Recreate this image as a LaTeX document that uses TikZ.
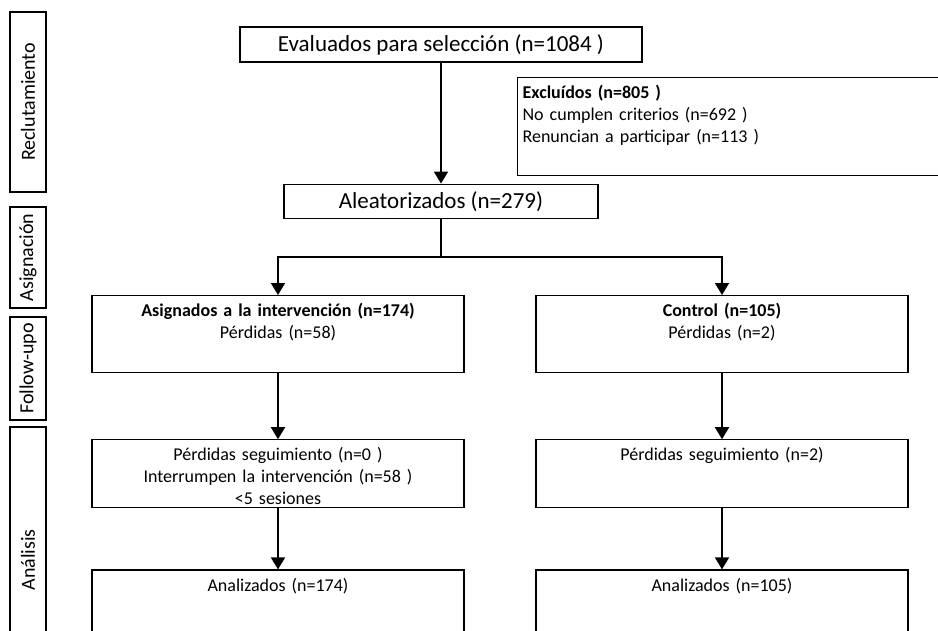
\documentclass[tikz,border=0pt]{standalone}
\usepackage{fontspec}
\setmainfont{Carlito}
\usetikzlibrary{arrows.meta,positioning}
\tikzset{
  phasebox/.style={draw, line width=1.2pt, rotate=90,
    minimum height=36pt, inner sep=0pt,
    font=\fontsize{20}{24}\selectfont},
  mainbox/.style={draw, line width=1.2pt, inner sep=0pt,
    minimum height=35pt, font=\fontsize{23}{28}\selectfont},
  armbox/.style={draw, line width=1.2pt, inner sep=0pt,
    text width=372pt, align=center, text height=21pt,
    font=\fontsize{18}{22}\selectfont},
  exclbox/.style={draw, line width=1.2pt, inner xsep=5pt, inner ysep=0pt,
    text width=440pt, align=left, text height=20.5pt,
    font=\fontsize{18}{22}\selectfont},
  arr/.style={-{Triangle[length=12pt, width=14pt]}, line width=1.8pt},
}
\begin{document}
\begin{tikzpicture}[x=1pt, y=1pt, node distance=60pt]
  \useasboundingbox (0,0) rectangle (938,-630);
  \clip (0,0) rectangle (938,-630);

  % phases on the left
  \node[phasebox, minimum width=180pt] (reclut) at (28,-102) {Reclutamiento};
  \node[phasebox, minimum width=101pt] (asig) at (28,-257.5) {Asignación};
  \node[phasebox, minimum width=103pt] (follow) at (28,-368.5) {Follow-upo};
  \node[phasebox, minimum width=266pt] (anal) at (28,-560) {Análisis};

  % recruitment
  \node[mainbox, minimum width=402pt] (eval) at (441,-44.5) {Evaluados para selección (n=1084 )};
  \node[mainbox, minimum width=314pt, minimum height=34pt, below=121pt of eval] (rand) {Aleatorizados (n=279)};
  \node[exclbox, text depth=77.5pt, anchor=north west] (excl) at (517,-77)
    {\textbf{Excluídos (n=805 )}\\No cumplen criterios (n=692 )\\Renuncian a participar (n=113 )};

  % arms
  \node[armbox, text depth=56pt, anchor=north] (intv) at (278,-295)
    {\textbf{Asignados a la intervención (n=174)}\\Pérdidas (n=58)};
  \node[armbox, text depth=56pt, anchor=north] (ctrl) at (722,-295)
    {\textbf{Control (n=105)}\\Pérdidas (n=2)};
  \node[armbox, text depth=47pt, below=66pt of intv] (intvfu)
    {Pérdidas seguimiento (n=0 )\\Interrumpen la intervención (n=58 )\\<5 sesiones};
  \node[armbox, text depth=47pt, below=66pt of ctrl] (ctrlfu)
    {Pérdidas seguimiento (n=2)};
  \node[armbox, text depth=100pt, below=61pt of intvfu] (intvan) {Analizados (n=174)};
  \node[armbox, text depth=100pt, below=61pt of ctrlfu] (ctrlan) {Analizados (n=105)};

  % flow
  \draw[arr] (eval) -- (rand);
  \draw[line width=1.8pt] (rand.south) -- ++(0,-38) coordinate (split);
  \draw[arr] (split) -| (intv.north);
  \draw[arr] (split) -| (ctrl.north);
  \draw[arr] (intv) -- (intvfu);
  \draw[arr] (ctrl) -- (ctrlfu);
  \draw[arr] (intvfu) -- (intvan);
  \draw[arr] (ctrlfu) -- (ctrlan);
\end{tikzpicture}
\end{document}
